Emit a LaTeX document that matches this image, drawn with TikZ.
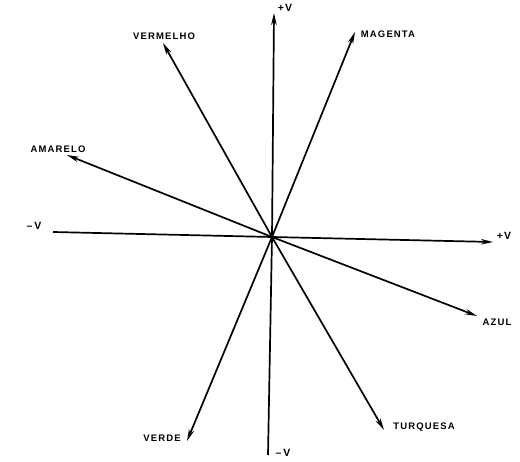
\documentclass[tikz,border=0pt]{standalone}
\usepackage{fontspec}
\setmainfont{Liberation Sans}
\newfontfamily\lblfont[LetterSpace=12]{Liberation Sans Bold}
\usetikzlibrary{arrows.meta}
\begin{document}
\begin{tikzpicture}[x=1pt,y=-1pt,
  vec/.style={line width=1.7pt,-{Stealth[length=12pt,width=5.5pt]}},
  ax/.style={line width=1.7pt},
  lbl/.style={font=\lblfont\fontsize{9.5}{11}\selectfont,inner sep=0pt},
  vlbl/.style={font=\lblfont\fontsize{10.5}{12}\selectfont,inner sep=0pt}]
\useasboundingbox (0,0) rectangle (520,462);
\coordinate (O) at (272,237);
\coordinate (top) at (274,13);
\coordinate (bot) at (268,455);
\coordinate (lft) at (53,232);
\coordinate (rgt) at (493,242);
\coordinate (ver) at (163,43);
\coordinate (mag) at (355,32);
\coordinate (ama) at (67,155);
\coordinate (azu) at (477,316);
\coordinate (tur) at (384,430);
\coordinate (vrd) at (187,441);
\draw[vec] (O) -- (top);
\draw[ax] (O) -- (bot);
\draw[ax] (O) -- (lft);
\draw[vec] (O) -- (rgt);
\draw[vec] (O) -- (ver);
\draw[vec] (O) -- (mag);
\draw[vec] (O) -- (ama);
\draw[vec] (O) -- (azu);
\draw[vec] (O) -- (tur);
\draw[vec] (O) -- (vrd);
\node[vlbl] (ptop) at (285,8) {+V};
\node[vlbl] (pbot) at (283,453) {–\,V};
\node[vlbl] (plft) at (34,226) {–\,V};
\node[vlbl] (prgt) at (504,236) {+V};
\node[lbl] (lver) at (164,36) {VERMELHO};
\node[lbl] (lmag) at (388,34) {MAGENTA};
\node[lbl] (lama) at (58,149) {AMARELO};
\node[lbl] (lazu) at (497,322) {AZUL};
\node[lbl] (ltur) at (424,427) {TURQUESA};
\node[lbl] (lvrd) at (162,438) {VERDE};
\end{tikzpicture}
\end{document}
